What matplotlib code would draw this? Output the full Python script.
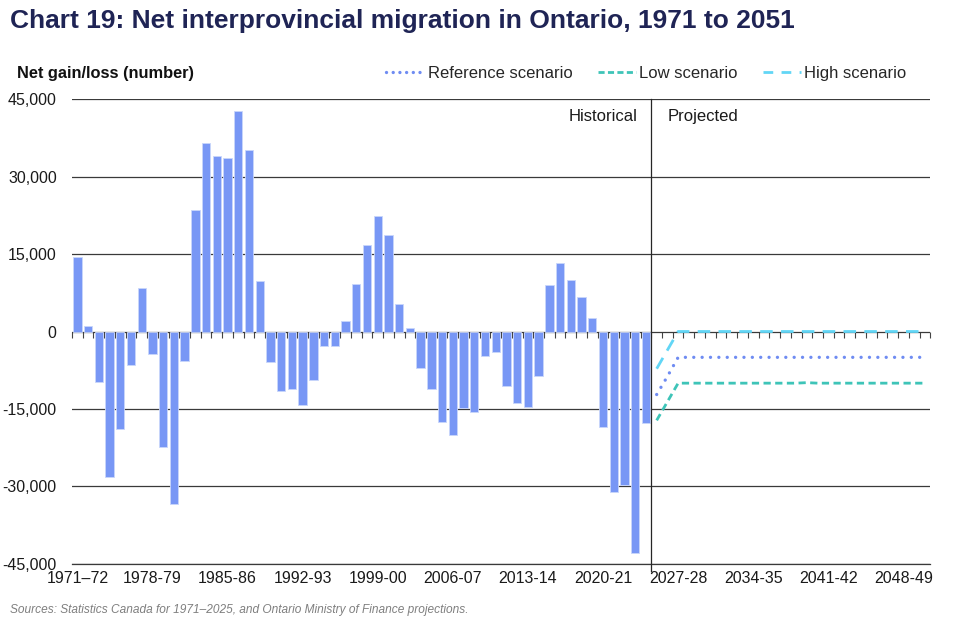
import numpy as np
import matplotlib
matplotlib.use("Agg")
import matplotlib.pyplot as plt
from matplotlib.lines import Line2D

plt.rcParams['font.family'] = ['Liberation Sans', 'DejaVu Sans']

# fiscal years 1971-72 .. 2050-51
years = [f"{y}-{str(y + 1)[-2:]}" for y in range(1971, 2051)]
tick_labels = ["1971\u201372", "1978-79", "1985-86", "1992-93", "1999-00", "2006-07",
               "2013-14", "2020-21", "2027-28", "2034-35", "2041-42", "2048-49"]

# historical net interprovincial migration, 1971-72 to 2024-25
historical = [14500, 1000, -9800, -28200, -18900, -6500, 8400, -4300, -22400, -33300,
              -5700, 23600, 36400, 33900, 33500, 42700, 35200, 9800, -5900, -11600,
              -11100, -14200, -9400, -2900, -2900, 2000, 9200, 16700, 22400, 18600,
              5400, 600, -7000, -11200, -17600, -20100, -14800, -15600, -4700, -4000,
              -10500, -13900, -14600, -8600, 9000, 13300, 10000, 6700, 2700, -18400,
              -31100, -29700, -42800, -17800]

# projections, 2025-26 to 2050-51
reference = [-12200, -8700] + [-5000] * 24
low = [-17200, -13600] + [-10000] * 12 + [-9900] + [-10000] * 11
high = [-7200, -3600] + [0] * 24

n_hist = len(historical)
x_hist = np.arange(n_hist)
x_proj = np.arange(n_hist, n_hist + len(reference))

fig = plt.figure(figsize=(9.6, 6.24), dpi=100)
ax = fig.add_axes([0.075, 0.0962, 0.894, 0.7451])

ax.bar(x_hist, historical, width=0.78, color='#7897F5', edgecolor='#C9D6FB',
       linewidth=0.6, zorder=3)

ax.plot(x_proj, reference, color='#6F8CF2', lw=2.4, linestyle=(0, (0.01, 2.5)),
        dash_capstyle='round', zorder=4)
ax.plot(x_proj, low, color='#3EC4B8', lw=2.0, linestyle=(0, (2.6, 1.6)), zorder=4)
ax.plot(x_proj, high, color='#62D6F6', lw=2.0, linestyle=(0, (4.5, 3.0)), zorder=4)

ax.set_xlim(-0.5, len(years) - 0.5)
ax.set_ylim(-45000, 45000)
ax.set_yticks(np.arange(-45000, 45001, 15000))
ax.set_yticklabels([f"{v:,.0f}" if v != 0 else "0" for v in np.arange(-45000, 45001, 15000)])
ax.yaxis.grid(True, color='#3A3A3A', lw=0.9, zorder=0)
ax.set_xticks(np.arange(0, len(years), 7))
ax.set_xticklabels(tick_labels)
ax.tick_params(axis='both', length=0, labelsize=11.5, colors='#1A1A1A')
ax.tick_params(axis='x', pad=5)
ax.tick_params(axis='y', pad=11)
for s in ['top', 'right', 'left']:
    ax.spines[s].set_visible(False)
ax.spines['bottom'].set_color('#3A3A3A')
ax.spines['bottom'].set_linewidth(0.9)

# zero line with category ticks
zax = ax.secondary_xaxis(0.5)
zax.set_xticks(np.arange(-0.5, len(years), 1))
zax.tick_params(direction='out', length=4, width=0.8, color='#444444', labelbottom=False,
                labeltop=False, bottom=True, top=False)
zax.spines['bottom'].set_color('#7F7F7F')
zax.spines['bottom'].set_linewidth(1.0)
zax.spines['top'].set_visible(False)
zax.xaxis.set_ticks_position('bottom')
zax.set_xticklabels([])

ax.axvline(n_hist - 0.5, ymin=-0.015, ymax=1, color='#262626', lw=0.9, zorder=5, clip_on=False)
ax.text(n_hist - 1.8, 41700, "Historical", ha='right', va='center', fontsize=12, color='#1A1A1A')
ax.text(n_hist + 1.0, 41700, "Projected", ha='left', va='center', fontsize=12, color='#1A1A1A')

fig.text(0.0104, 0.967, "Chart 19: Net interprovincial migration in Ontario, 1971 to 2051",
         fontsize=19, fontweight='bold', color='#1F2455', va='center')
fig.text(0.018, 0.883, "Net gain/loss (number)", fontsize=11.8, fontweight='bold',
         color='#111111', va='center')
fig.text(0.0104, 0.022, "Sources: Statistics Canada for 1971\u20132025, and Ontario Ministry of Finance projections.",
         fontsize=8.6, style='italic', color='#7F7F7F', va='center')

handles = [
    Line2D([], [], color='#6F8CF2', lw=2.4, linestyle=(0, (0.01, 2.0)), dash_capstyle='round'),
    Line2D([], [], color='#3EC4B8', lw=2.0, linestyle=(0, (2.2, 1.2))),
    Line2D([], [], color='#62D6F6', lw=2.0, linestyle=(0, (3.5, 3.0))),
]
fig.legend(handles, ["Reference scenario", "Low scenario", "High scenario"],
           loc='center right', bbox_to_anchor=(0.96, 0.883), ncol=3, frameon=False,
           fontsize=12, handlelength=2.3, handletextpad=0.2, columnspacing=1.5,
           labelcolor='#262626')

fig.savefig('out.png', dpi=100)
